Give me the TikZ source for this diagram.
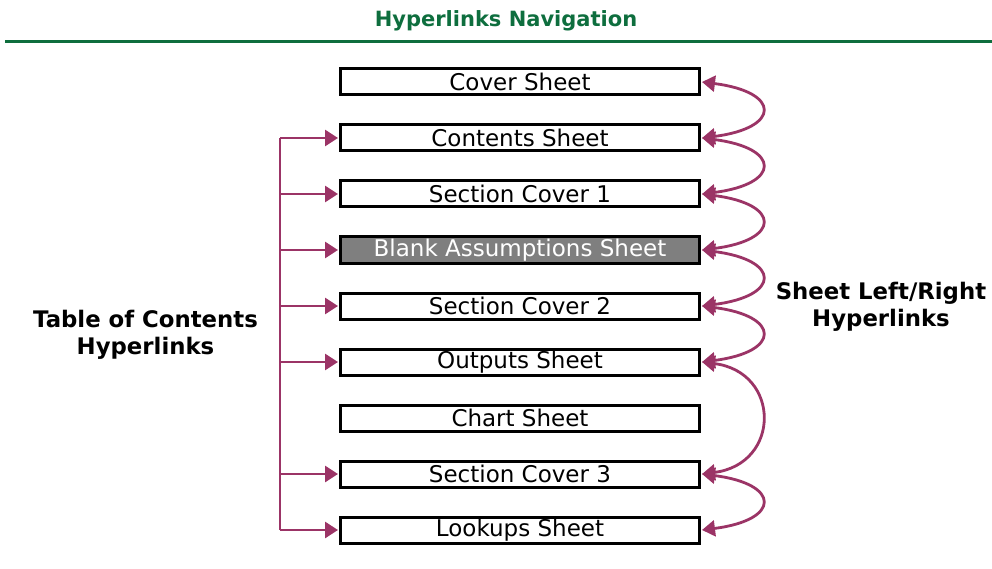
\documentclass[tikz,border=0pt]{standalone}
\usepackage{fontspec}
\setmainfont{DejaVu Sans}
\usetikzlibrary{arrows.meta}
\definecolor{linkcol}{HTML}{9B3466}
\definecolor{titlegreen}{HTML}{0E6E3E}
\definecolor{blankgray}{HTML}{7F7F7F}
\begin{document}
\begin{tikzpicture}[x=1pt,y=-1pt,
  sheet/.style={draw=black,line width=3pt,fill=white,minimum width=359pt,minimum height=26pt,inner sep=0pt,font=\fontsize{23}{26}\selectfont},
  blank/.style={sheet,fill=blankgray,text=white},
  toc/.style={draw=linkcol,line width=2.8pt,-{Triangle[length=13pt,width=16pt]}},
  lr/.style={draw=linkcol,line width=2.8pt,{Triangle[length=13pt,width=16pt]}-{Triangle[length=13pt,width=16pt]}},
  lbl/.style={align=center,font=\bfseries\fontsize{22.8}{27}\selectfont}]
\useasboundingbox (0,0) rectangle (992,569);
% heading and rule
\node[font=\bfseries\fontsize{21}{25}\selectfont,text=titlegreen] (title) at (506,21) {Hyperlinks Navigation};
\draw[titlegreen,line width=3pt] (5,42) -- (992,42);
% sheets
\node[sheet] (cover) at (520,82) {Cover Sheet};
\node[sheet] (contents) at (520,138) {Contents Sheet};
\node[sheet] (sec1) at (520,194) {Section Cover 1};
\node[blank] (assump) at (520,250) {Blank Assumptions Sheet};
\node[sheet] (sec2) at (520,306) {Section Cover 2};
\node[sheet] (outputs) at (520,362) {Outputs Sheet};
\node[sheet] (chart) at (520,418) {Chart Sheet};
\node[sheet] (sec3) at (520,474) {Section Cover 3};
\node[sheet] (lookups) at (520,530) {Lookups Sheet};
% table of contents links
\coordinate (ttop) at (280,138);
\coordinate (tbot) at (280,530);
\draw[draw=linkcol,line width=2.8pt] (ttop) -- (tbot);
\foreach \n in {contents,sec1,assump,sec2,outputs,sec3,lookups}
  \draw[toc] (ttop |- \n.west) -- ([xshift=-1pt]\n.west);
% left/right links (yshift is in canvas units, so negative moves down the page)
\foreach \a/\b in {cover/contents,contents/sec1,sec1/assump,assump/sec2,sec2/outputs,outputs/sec3,sec3/lookups}
  \draw[lr] ([xshift=1pt]\a.east) .. controls ([xshift=80pt,yshift=-10pt]\a.east) and ([xshift=80pt,yshift=10pt]\b.east) .. ([xshift=1pt]\b.east);
% labels
\node[lbl] (toclbl) at (145.5,334.5) {Table of Contents\\Hyperlinks};
\node[lbl] (lrlbl) at (881,306.5) {Sheet Left/Right\\Hyperlinks};
\end{tikzpicture}
\end{document}
